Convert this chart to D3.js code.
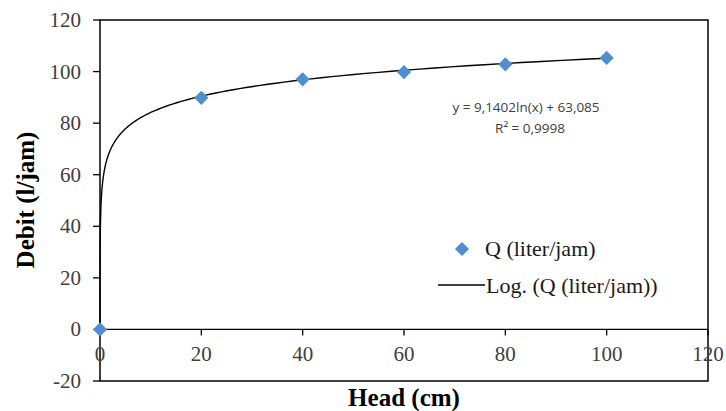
<!DOCTYPE html>
<html>
<head>
<meta charset="UTF-8">
<title>Debit vs Head</title>
<script src="https://cdnjs.cloudflare.com/ajax/libs/d3/7.8.2/d3.min.js"></script>
<style>
    body { margin: 0; padding: 0; background: #ffffff; }
    svg { display: block; }
    .tick-label { font-family: "Liberation Serif", "Times New Roman", serif; font-size: 21px; fill: #404040; }
    .axis-title { font-family: "Liberation Serif", "Times New Roman", serif; font-size: 25px; font-weight: bold; fill: #000; }
    .legend-text { font-family: "Liberation Serif", "Times New Roman", serif; font-size: 22px; fill: #1a1a1a; }
    .eq-text { font-family: "Open Sans", "Liberation Sans", sans-serif; font-size: 13.5px; fill: #404040; }
</style>
</head>
<body>
<svg width="726" height="411"></svg>
<script>
    // data
    const head = [0, 20, 40, 60, 80, 100];
    const debit = [0, 89.8, 97.0, 99.8, 102.8, 105.3];

    // logarithmic trendline shown on the chart
    const trendA = 9.1402;
    const trendB = 63.085;
    const eqLabel = "y = 9,1402ln(x) + 63,085";
    const r2Label = "R\u00b2 = 0,9998";

    const xTicks = [0, 20, 40, 60, 80, 100, 120];
    const yTicks = [-20, 0, 20, 40, 60, 80, 100, 120];

    const svg = d3.select("svg");
    const plotL = 100, plotR = 708, plotT = 20, plotB = 381;

    const x = d3.scaleLinear().domain([0, 120]).range([plotL, plotR]);
    const y = d3.scaleLinear().domain([-20, 120]).range([plotB, plotT]);

    // plot frame
    svg.append("rect")
        .attr("x", plotL).attr("y", plotT)
        .attr("width", plotR - plotL).attr("height", plotB - plotT)
        .attr("fill", "none").attr("stroke", "#000").attr("stroke-width", 1.5);

    // y axis ticks + labels
    svg.selectAll(".ytick").data(yTicks).enter().append("line")
        .attr("x1", plotL - 7).attr("x2", plotL)
        .attr("y1", d => y(d)).attr("y2", d => y(d))
        .attr("stroke", "#000").attr("stroke-width", 1.3);
    svg.selectAll(".ylab").data(yTicks).enter().append("text")
        .attr("class", "tick-label")
        .attr("x", plotL - 19).attr("y", d => y(d) + 7)
        .attr("text-anchor", "end")
        .text(d => d);

    // x axis at y = 0
    svg.append("line")
        .attr("x1", plotL).attr("x2", plotR)
        .attr("y1", y(0)).attr("y2", y(0))
        .attr("stroke", "#000").attr("stroke-width", 1.3);
    svg.selectAll(".xtick").data(xTicks).enter().append("line")
        .attr("x1", d => x(d)).attr("x2", d => x(d))
        .attr("y1", y(0)).attr("y2", y(0) + 6)
        .attr("stroke", "#000").attr("stroke-width", 1.3);
    svg.selectAll(".xlab").data(xTicks).enter().append("text")
        .attr("class", "tick-label")
        .attr("x", d => x(d)).attr("y", y(0) + 32)
        .attr("text-anchor", "middle")
        .text(d => d);

    // trendline
    const trendX = d3.range(-3, 2.0001, 0.02).map(e => Math.pow(10, e));
    const trend = trendX.map(v => [v, trendA * Math.log(v) + trendB]).filter(d => d[1] >= 0);
    svg.append("path")
        .datum(trend)
        .attr("fill", "none").attr("stroke", "#000").attr("stroke-width", 1.4)
        .attr("d", d3.line().x(d => x(d[0])).y(d => y(d[1])));

    // points
    const diamond = d3.symbol().type(d3.symbolDiamond2).size(128);
    svg.selectAll(".pt").data(head).enter().append("path")
        .attr("d", diamond)
        .attr("transform", (d, i) => `translate(${x(d)},${y(debit[i])})`)
        .attr("fill", "#4f8fd0");

    // equation
    svg.append("text").attr("class", "eq-text")
        .attr("x", 526).attr("y", 112).attr("text-anchor", "middle").text(eqLabel);
    svg.append("text").attr("class", "eq-text")
        .attr("x", 530).attr("y", 133).attr("text-anchor", "middle").text(r2Label);

    // legend
    svg.append("path").attr("d", diamond)
        .attr("transform", "translate(462,249)").attr("fill", "#4f8fd0");
    svg.append("text").attr("class", "legend-text")
        .attr("x", 485).attr("y", 256).text("Q (liter/jam)");
    svg.append("line")
        .attr("x1", 438).attr("x2", 485).attr("y1", 285).attr("y2", 285)
        .attr("stroke", "#000").attr("stroke-width", 1.4);
    svg.append("text").attr("class", "legend-text")
        .attr("x", 486).attr("y", 293).text("Log. (Q (liter/jam))");

    // axis titles
    svg.append("text").attr("class", "axis-title")
        .attr("x", 404).attr("y", 406).attr("text-anchor", "middle").text("Head (cm)");
    svg.append("text").attr("class", "axis-title")
        .attr("transform", `translate(34,200) rotate(-90)`)
        .attr("text-anchor", "middle").text("Debit (l/jam)");
</script>
</body>
</html>
